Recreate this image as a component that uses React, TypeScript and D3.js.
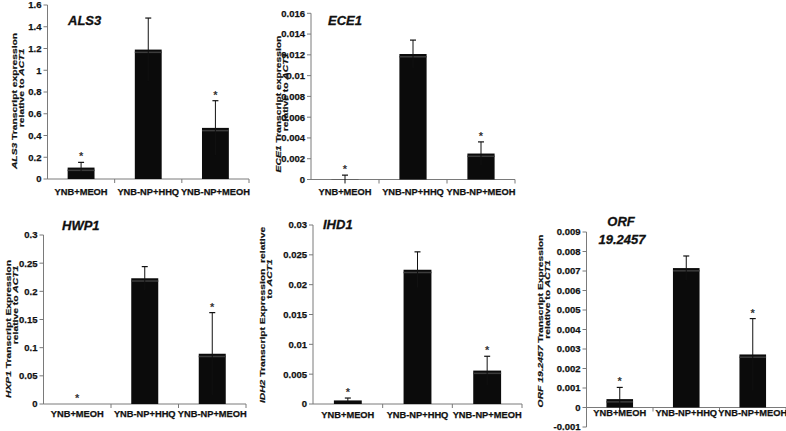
import React from "react";
import * as d3 from "d3";

// ---------- DATA ----------
const categories = ["YNB+MEOH", "YNB-NP+HHQ", "YNB-NP+MEOH"];

const als3Values = [0.105, 1.19, 0.47];
const als3Errors = [0.048, 0.29, 0.25];
const als3Stars = [true, false, true];
const als3Ticks = [0, 0.2, 0.4, 0.6, 0.8, 1, 1.2, 1.4, 1.6];
const als3TickLabels = ["0", "0.2", "0.4", "0.6", "0.8", "1", "1.2", "1.4", "1.6"];

const ece1Values = [0.00002, 0.01208, 0.0025];
const ece1Errors = [0.0004, 0.00134, 0.00112];
const ece1Stars = [true, false, true];
const ece1Ticks = [0, 0.002, 0.004, 0.006, 0.008, 0.01, 0.012, 0.014, 0.016];
const ece1TickLabels = ["0", "0.002", "0.004", "0.006", "0.008", "0.01", "0.012", "0.014", "0.016"];

const hwp1Values = [0, 0.2232, 0.0892];
const hwp1Errors = [0, 0.0207, 0.073];
const hwp1Stars = [true, false, true];
const hwp1Ticks = [0, 0.05, 0.1, 0.15, 0.2, 0.25, 0.3];
const hwp1TickLabels = ["0", "0.05", "0.1", "0.15", "0.2", "0.25", "0.3"];

const ihd1Values = [0.0006, 0.0225, 0.0056];
const ihd1Errors = [0.0004, 0.003, 0.0024];
const ihd1Stars = [true, false, true];
const ihd1Ticks = [0, 0.005, 0.01, 0.015, 0.02, 0.025, 0.03];
const ihd1TickLabels = ["0", "0.005", "0.01", "0.015", "0.02", "0.025", "0.03"];

const orfValues = [0.00043, 0.00715, 0.00272];
const orfErrors = [0.0006, 0.00062, 0.00184];
const orfStars = [true, false, true];
const orfTicks = [-0.001, 0, 0.001, 0.002, 0.003, 0.004, 0.005, 0.006, 0.007, 0.008, 0.009];
const orfTickLabels = ["-0.001", "0", "0.001", "0.002", "0.003", "0.004", "0.005", "0.006", "0.007", "0.008", "0.009"];

// title lines and y-axis label lines: [text, italic]
const als3Title = ["ALS3"];
const ece1Title = ["ECE1"];
const hwp1Title = ["HWP1"];
const ihd1Title = ["IHD1"];
const orfTitle = ["ORF", "19.2457"];

const als3YLabel: [string, boolean][][] = [
  [["ALS3", true], [" Transcript expression", false]],
  [["relative to ", false], ["ACT1", true]],
];
const ece1YLabel: [string, boolean][][] = [
  [["ECE1", true], [" Transcript expression", false]],
  [["relative to ", false], ["ACT1", true]],
];
const hwp1YLabel: [string, boolean][][] = [
  [["HXP1", true], [" Transcript Expression", false]],
  [["relative to ", false], ["ACT1", true]],
];
const ihd1YLabel: [string, boolean][][] = [
  [["IDH2", true], [" Transcript Expression  relative", false]],
  [["to ", false], ["ACT1", true]],
];
const orfYLabel: [string, boolean][][] = [
  [["ORF 19.2457", true], [" Transcript Expression", false]],
  [["relative to ", false], ["ACT1", true]],
];

// ---------- LAYOUT (style) ----------
const layouts = [
  { x0: 47.5, x1: 249, yTop: 5, yBottom: 179, labelDy: 15.5,
    titleX: [68], titleY: [25], titleAnchor: "start",
    yl: [{ x: 14.5, y: 101 }, { x: 21.5, y: 88 }] },
  { x0: 311, x1: 515, yTop: 13.3, yBottom: 179.5, labelDy: 15,
    titleX: [328], titleY: [25], titleAnchor: "start",
    yl: [{ x: 278.5, y: 104 }, { x: 285.5, y: 92 }] },
  { x0: 43.5, x1: 246, yTop: 235, yBottom: 404, labelDy: 12.5,
    titleX: [62], titleY: [230], titleAnchor: "start",
    yl: [{ x: 8, y: 329 }, { x: 15, y: 305 }] },
  { x0: 313, x1: 522, yTop: 225, yBottom: 404, labelDy: 13.5,
    titleX: [323], titleY: [229], titleAnchor: "start",
    yl: [{ x: 262, y: 315 }, { x: 269, y: 279 }] },
  { x0: 586.5, x1: 786, yTop: 232, yBottom: 427, labelDy: 8.5,
    titleX: [621, 622], titleY: [226, 244], titleAnchor: "middle",
    yl: [{ x: 540.5, y: 321 }, { x: 547.5, y: 299.5 }] },
];

const panels = [
  { values: als3Values, errors: als3Errors, stars: als3Stars, ticks: als3Ticks, tickLabels: als3TickLabels, title: als3Title, ylabel: als3YLabel },
  { values: ece1Values, errors: ece1Errors, stars: ece1Stars, ticks: ece1Ticks, tickLabels: ece1TickLabels, title: ece1Title, ylabel: ece1YLabel },
  { values: hwp1Values, errors: hwp1Errors, stars: hwp1Stars, ticks: hwp1Ticks, tickLabels: hwp1TickLabels, title: hwp1Title, ylabel: hwp1YLabel },
  { values: ihd1Values, errors: ihd1Errors, stars: ihd1Stars, ticks: ihd1Ticks, tickLabels: ihd1TickLabels, title: ihd1Title, ylabel: ihd1YLabel },
  { values: orfValues, errors: orfErrors, stars: orfStars, ticks: orfTicks, tickLabels: orfTickLabels, title: orfTitle, ylabel: orfYLabel },
];

const FONT = "'Liberation Sans', Arial, Helvetica, sans-serif";
const AXIS = "#7a7a7a";
const INK = "#111";

function Panel({ p, L }: { p: any; L: any }) {
  const y = d3
    .scaleLinear()
    .domain([p.ticks[0], p.ticks[p.ticks.length - 1]])
    .range([L.yBottom, L.yTop]);
  const x = d3
    .scaleBand<string>()
    .domain(categories)
    .range([L.x0, L.x1])
    .paddingInner(0.6)
    .paddingOuter(0.3);
  const y0 = y(0);
  const step = x.step();
  const bw = x.bandwidth();

  return (
    <g>
      {/* y axis */}
      <line x1={L.x0} x2={L.x0} y1={L.yTop} y2={L.yBottom} stroke={AXIS} strokeWidth={1} />
      {p.ticks.map((t: number, i: number) => (
        <g key={"t" + i}>
          <line x1={L.x0 - 4} x2={L.x0} y1={y(t)} y2={y(t)} stroke={AXIS} strokeWidth={1} />
          <text
            x={L.x0 - 6}
            y={y(t)}
            dy="0.36em"
            textAnchor="end"
            fontFamily={FONT}
            fontWeight="bold"
            fontSize={9.5}
            fill={INK}
            stroke={INK}
            strokeWidth={0.25}
          >
            {p.tickLabels[i]}
          </text>
        </g>
      ))}
      {/* x axis */}
      <line x1={L.x0} x2={L.x1} y1={y0} y2={y0} stroke={AXIS} strokeWidth={1} />
      {categories.map((c, i) => (
        <line
          key={"b" + i}
          x1={L.x0 + (i + 1) * step}
          x2={L.x0 + (i + 1) * step}
          y1={y0}
          y2={y0 + 4}
          stroke={AXIS}
          strokeWidth={1}
        />
      ))}
      {categories.map((c, i) => (
        <text
          key={"c" + i}
          x={(x(c) as number) + bw / 2}
          y={y0 + L.labelDy}
          fontFamily={FONT}
          fontWeight="bold"
          fontSize={9.3}
          fill={INK}
          stroke={INK}
          strokeWidth={0.25}
          textAnchor="middle"
        >
          {c}
        </text>
      ))}
      {/* bars */}
      {categories.map((c, i) => {
        const v = p.values[i];
        const top = y(Math.max(v, 0));
        const h = Math.abs(y(v) - y0);
        return (
          <g key={"bar" + i}>
            {h > 0 && <rect x={x(c)} y={top} width={bw} height={h} fill="#0b0b0b" />}
            {h > 4 && (
              <rect x={x(c)} y={top + 2} width={bw} height={1.5} fill="#3c3c3c" />
            )}
          </g>
        );
      })}
      {/* error bars */}
      {categories.map((c, i) => {
        const v = p.values[i];
        const e = p.errors[i];
        if (e <= 0) return null;
        const cx = (x(c) as number) + bw / 2;
        return (
          <g key={"e" + i}>
            <line x1={cx} x2={cx} y1={y(v - e)} y2={y(v + e)} stroke={INK} strokeWidth={1} />
            <line x1={cx - 3} x2={cx + 3} y1={y(v + e)} y2={y(v + e)} stroke={INK} strokeWidth={1.2} />
          </g>
        );
      })}
      {/* significance stars */}
      {categories.map((c, i) => {
        if (!p.stars[i]) return null;
        const v = p.values[i];
        const e = p.errors[i];
        const cx = (x(c) as number) + bw / 2;
        return (
          <text
            key={"s" + i}
            x={cx}
            y={y(v + e) - 2}
            textAnchor="middle"
            fontFamily={FONT}
            fontSize={11}
            fontWeight="bold"
            fill="#333"
          >
            *
          </text>
        );
      })}
      {/* title */}
      {p.title.map((t: string, i: number) => (
        <text
          key={"ti" + i}
          x={L.titleX[i]}
          y={L.titleY[i]}
          textAnchor={L.titleAnchor}
          fontFamily={FONT}
          fontWeight="bold"
          fontStyle="italic"
          fontSize={13}
          fill={INK}
          stroke={INK}
          strokeWidth={0.3}
        >
          {t}
        </text>
      ))}
      {/* y label */}
      {p.ylabel.map((line: [string, boolean][], li: number) => (
        <text
          key={"yl" + li}
          transform={`translate(${L.yl[li].x},${L.yl[li].y}) rotate(-90) scale(1,0.72)`}
          textAnchor="middle"
          dy="0.35em"
          fontFamily={FONT}
          fontWeight="bold"
          fontSize={10.3}
          fill={INK}
          stroke={INK}
          strokeWidth={0.25}
          style={{ whiteSpace: "pre" }}
        >
          {line.map(([s, it], k) => (
            <tspan key={k} fontStyle={it ? "italic" : "normal"}>
              {s}
            </tspan>
          ))}
        </text>
      ))}
    </g>
  );
}

export default function App() {
  return (
    <svg
      width={786}
      height={431}
      viewBox="0 0 786 431"
      style={{ position: "absolute", left: 0, top: 0, background: "#fff" }}
    >
      <rect x={0} y={0} width={786} height={431} fill="#fff" />
      {panels.map((p, i) => (
        <Panel key={i} p={p} L={layouts[i]} />
      ))}
    </svg>
  );
}
